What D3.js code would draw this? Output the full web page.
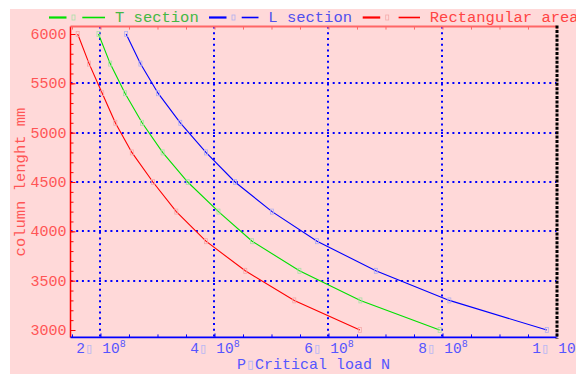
<!DOCTYPE html>
<html>
<head>
<meta charset="utf-8">
<script src="https://cdn.jsdelivr.net/npm/d3@7"></script>
<style>
  html, body { margin: 0; padding: 0; background: #fff; }
  svg text { font-family: "Liberation Mono", "DejaVu Sans Mono", monospace; }
</style>
</head>
<body>
<div id="chart"></div>
<script>
// column length, mm
const lengths = [6000, 5700, 5400, 5100, 4800, 4500, 4200, 3900, 3600, 3300, 3000];
// critical load, in units of 10^8 N
const tSection = [1.965, 2.17, 2.43, 2.73, 3.09, 3.53, 4.07, 4.66, 5.49, 6.56, 7.95];
const lSection = [2.45, 2.70, 3.01, 3.40, 3.85, 4.36, 5.01, 5.80, 6.83, 8.12, 9.83];
const rectArea = [1.60, 1.80, 2.03, 2.26, 2.55, 2.92, 3.33, 3.85, 4.54, 5.40, 6.55];

const seriesNames = ["T section", "L section", "Rectangular area"];

const xMajor = [2, 4, 6, 8, 10];
const xTickMant = ["2", "4", "6", "8", "1"];
const xTickExp = ["8", "8", "8", "8", "9"];
const xMinor = [1.5, 2.5, 3, 3.5, 4.5, 5, 5.5, 6.5, 7, 7.5, 8.5, 9, 9.5];
const xGrid = [2, 4, 6, 8];

const yMajor = [3000, 3500, 4000, 4500, 5000, 5500, 6000];
const yMinor = d3.range(3000, 6001, 100);
const yGrid = [3500, 4000, 4500, 5000, 5500];

const width = 576, height = 374;
const plotLeft = 70.5, plotRight = 556.5, plotTop = 26.6, plotBottom = 337.4;

const lineColors = ["#00e000", "#0000ff", "#ff0000"];
const textColors = ["#44b844", "#5050ee", "#ff4444"];
const markColors = ["#a8e0a8", "#b0b0f0", "#f4aaaa"];

const svg = d3.select("#chart").append("svg")
  .attr("width", width)
  .attr("height", height);

svg.append("rect")
  .attr("x", 10).attr("y", 9)
  .attr("width", width - 10).attr("height", height - 9)
  .attr("fill", "#ffd9d9");

const x = d3.scaleLinear().domain([1.474, 10]).range([plotLeft, plotRight]);
const y = d3.scaleLinear().domain([2925, 6075]).range([plotBottom, plotTop]);

// grid
const grid = svg.append("g")
  .attr("stroke", "#0000ff")
  .attr("stroke-width", 2)
  .attr("stroke-dasharray", "2,3.7");

grid.selectAll(".gx").data(xGrid).enter().append("line")
  .attr("x1", d => Math.round(x(d))).attr("x2", d => Math.round(x(d)))
  .attr("y1", plotTop).attr("y2", plotBottom);

grid.selectAll(".gy").data(yGrid).enter().append("line")
  .attr("x1", plotLeft).attr("x2", plotRight)
  .attr("y1", d => Math.round(y(d))).attr("y2", d => Math.round(y(d)));

// curves
const series = [tSection, lSection, rectArea];
const line = d3.line()
  .x(d => x(d[0]))
  .y(d => y(d[1]));

series.forEach((vals, i) => {
  const pts = vals.map((v, j) => [v, lengths[j]]);
  svg.append("path")
    .attr("d", line(pts))
    .attr("fill", "none")
    .attr("stroke", lineColors[i])
    .attr("stroke-width", 1.1);

  svg.selectAll(".m" + i).data(pts).enter().append("rect")
    .attr("x", d => x(d[0]) - 1.5)
    .attr("y", d => y(d[1]) - 2.5)
    .attr("width", 3).attr("height", 5)
    .attr("fill", "none")
    .attr("stroke", markColors[i])
    .attr("stroke-width", 0.8);
});

// left axis (red)
const yAxis = svg.append("g")
  .attr("transform", `translate(${plotLeft},0)`)
  .call(d3.axisLeft(y).tickValues(yMajor).tickFormat(d3.format("d"))
    .tickSizeInner(-5).tickSizeOuter(0).tickPadding(4));
yAxis.select(".domain").attr("stroke", "#ff0000").attr("stroke-width", 1.5)
  .attr("d", `M0,${plotTop}V${plotBottom}`);
yAxis.selectAll(".tick line").attr("stroke", "#ff0000");
yAxis.selectAll(".tick text")
  .attr("fill", "#ff5555")
  .style("font-size", "15px")
  .attr("dy", "0.3em");

svg.append("g")
  .attr("transform", `translate(${plotLeft},0)`)
  .call(d3.axisLeft(y).tickValues(yMinor).tickSizeInner(-3).tickSizeOuter(0).tickFormat(""))
  .call(g => g.select(".domain").remove())
  .selectAll(".tick line").attr("stroke", "#ff0000");

// bottom axis (blue)
const xAxis = svg.append("g")
  .attr("transform", `translate(0,${plotBottom})`)
  .call(d3.axisBottom(x).tickValues(xMajor).tickSizeInner(-4).tickSizeOuter(0).tickFormat(""));
xAxis.select(".domain").attr("stroke", "#0000ff").attr("stroke-width", 1.8)
  .attr("d", `M${plotLeft},0H${plotRight}`);
xAxis.selectAll(".tick line").attr("stroke", "#0000ff");

const xLab = xAxis.selectAll(".tick").append("text")
  .attr("y", 16)
  .attr("fill", "#5555ff")
  .attr("text-anchor", "middle")
  .style("font-size", "14.5px");
xLab.append("tspan").text((d, i) => xTickMant[i]);
xLab.append("tspan").attr("fill", "#b8b8f4").text("\u25AF");
xLab.append("tspan").text(" 10");
xLab.append("tspan").attr("dy", -6).style("font-size", "10px").text((d, i) => xTickExp[i]);

svg.append("g")
  .attr("transform", `translate(0,${plotBottom})`)
  .call(d3.axisBottom(x).tickValues(xMinor).tickSizeInner(-3).tickSizeOuter(0).tickFormat(""))
  .call(g => g.select(".domain").remove())
  .selectAll(".tick line").attr("stroke", "#0000ff");

// top frame (salmon) with ticks
svg.append("g")
  .attr("transform", `translate(0,${plotTop})`)
  .call(d3.axisTop(x).tickValues(xMajor.concat(xMinor)).tickSizeInner(-3).tickSizeOuter(0).tickFormat(""))
  .call(g => g.select(".domain").attr("stroke", "#ff6666").attr("stroke-width", 2)
    .attr("d", `M${plotLeft},0H${plotRight}`))
  .selectAll(".tick line").attr("stroke", "#ff6666");

// right frame (black dotted)
svg.append("line")
  .attr("x1", plotRight + 0.5).attr("x2", plotRight + 0.5)
  .attr("y1", plotTop - 1).attr("y2", plotBottom + 1)
  .attr("stroke", "#000")
  .attr("stroke-width", 3)
  .attr("stroke-dasharray", "3,1.4");

// axis titles
const xTitle = svg.append("text")
  .attr("x", (plotLeft + plotRight) / 2)
  .attr("y", 369)
  .attr("text-anchor", "middle")
  .attr("fill", "#5555ff")
  .style("font-size", "15px");
xTitle.append("tspan").text("P");
xTitle.append("tspan").attr("fill", "#b8b8f4").text("\u25AF");
xTitle.append("tspan").text("Critical load N");

svg.append("text")
  .attr("transform", `translate(24.5,${(plotTop + plotBottom) / 2}) rotate(-90)`)
  .attr("text-anchor", "middle")
  .attr("fill", "#ff5555")
  .style("font-size", "15.5px")
  .text("column lenght mm");

// legend
const legendX = [49, 209, 362.7];
const legendSeg2 = [[82.3, 105], [241.7, 258.5], [398.6, 420]];
const legendText = [115, 268.3, 429.8];
const legendY = 17.5;

seriesNames.forEach((name, i) => {
  const g = svg.append("g");
  g.append("line")
    .attr("x1", legendX[i]).attr("x2", legendX[i] + 17.5)
    .attr("y1", legendY).attr("y2", legendY)
    .attr("stroke", lineColors[i]).attr("stroke-width", 2.2);
  g.append("rect")
    .attr("x", legendX[i] + 23).attr("y", legendY - 2.5)
    .attr("width", 3).attr("height", 5)
    .attr("fill", "none")
    .attr("stroke", markColors[i]).attr("stroke-width", 0.8);
  g.append("line")
    .attr("x1", legendSeg2[i][0]).attr("x2", legendSeg2[i][1])
    .attr("y1", legendY).attr("y2", legendY)
    .attr("stroke", lineColors[i]).attr("stroke-width", 1.6);
  g.append("text")
    .attr("x", legendText[i]).attr("y", 22)
    .attr("fill", textColors[i])
    .style("font-size", "15.5px")
    .text(name);
});
</script>
</body>
</html>
